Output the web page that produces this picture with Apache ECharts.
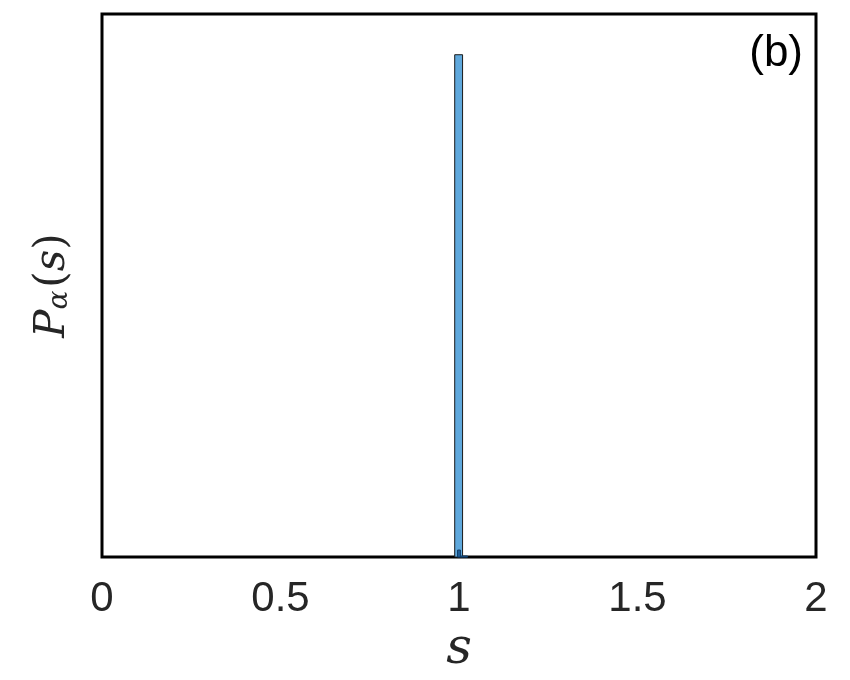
<!DOCTYPE html>
<html><head><meta charset="utf-8">
<script src="https://cdn.jsdelivr.net/npm/echarts@6/dist/echarts.min.js"></script>
<style>html,body{margin:0;padding:0;background:#fff}#c{width:850px;height:680px}</style>
</head><body><div id="c"></div>
<script>
// histogram bins: [left edge, right edge, height]
const mainBins = [[0.988, 1.010, 0.925]];
const fineBins = [[0.996, 1.004, 0.013], [1.004, 1.024, 0.002]];
const xTicks = [0, 0.5, 1, 1.5, 2];

function makeRender(fill, stroke) {
  return function (params, api) {
    const l = api.coord([api.value(0), 0]);
    const r = api.coord([api.value(1), api.value(2)]);
    return {
      type: 'rect',
      shape: { x: l[0], y: r[1], width: r[0] - l[0], height: l[1] - r[1] },
      style: { fill: fill, stroke: stroke, lineWidth: 1 }
    };
  };
}

const chart = echarts.init(document.getElementById('c'), null, { renderer: 'canvas' });
chart.setOption({
  animation: false,
  backgroundColor: '#ffffff',
  grid: { left: 102, right: 34, top: 14, bottom: 122, show: true, borderColor: '#000', borderWidth: 3, backgroundColor: 'transparent' },
  xAxis: {
    type: 'value', min: 0, max: 2, interval: 0.5,
    axisLine: { show: false }, axisTick: { show: false }, splitLine: { show: false },
    axisLabel: { fontSize: 42, color: '#262626', fontFamily: 'Liberation Sans, Arial', margin: 21,
      formatter: v => xTicks.includes(v) ? String(v) : '' },
    name: 's', nameLocation: 'middle', nameGap: 63,
    nameTextStyle: { fontSize: 50, fontStyle: 'italic', fontFamily: 'DejaVu Serif, serif', color: '#262626' }
  },
  yAxis: {
    type: 'value', min: 0, max: 1,
    axisLine: { show: false }, axisTick: { show: false }, splitLine: { show: false }, axisLabel: { show: false },
    name: '{p|P}{a|α}{t|(}{s|s}{t|)}', nameLocation: 'middle', nameGap: 28, nameRotate: 90,
    nameTextStyle: {
      color: '#262626',
      rich: {
        p: { fontSize: 42, fontStyle: 'italic', fontFamily: 'DejaVu Serif, serif', color: '#262626' },
        a: { fontSize: 28, fontStyle: 'italic', fontFamily: 'DejaVu Serif, serif', color: '#262626', padding: [14, 3, 0, 0] },
        t: { fontSize: 42, fontFamily: 'DejaVu Serif, serif', color: '#262626' },
        s: { fontSize: 42, fontStyle: 'italic', fontFamily: 'DejaVu Serif, serif', color: '#262626' }
      }
    }
  },
  series: [
    { type: 'custom', renderItem: makeRender('#5fa8dc', '#1a1a1a'), data: mainBins, encode: { x: [0, 1], y: 2 } },
    { type: 'custom', renderItem: makeRender('#1f5f9a', '#0d3a66'), data: fineBins, encode: { x: [0, 1], y: 2 } }
  ],
  graphic: [{
    type: 'text', right: 47, top: 32,
    style: { text: '(b)', fontSize: 44, fontFamily: 'Liberation Sans, Arial', fill: '#000' }
  }]
});
</script></body></html>
